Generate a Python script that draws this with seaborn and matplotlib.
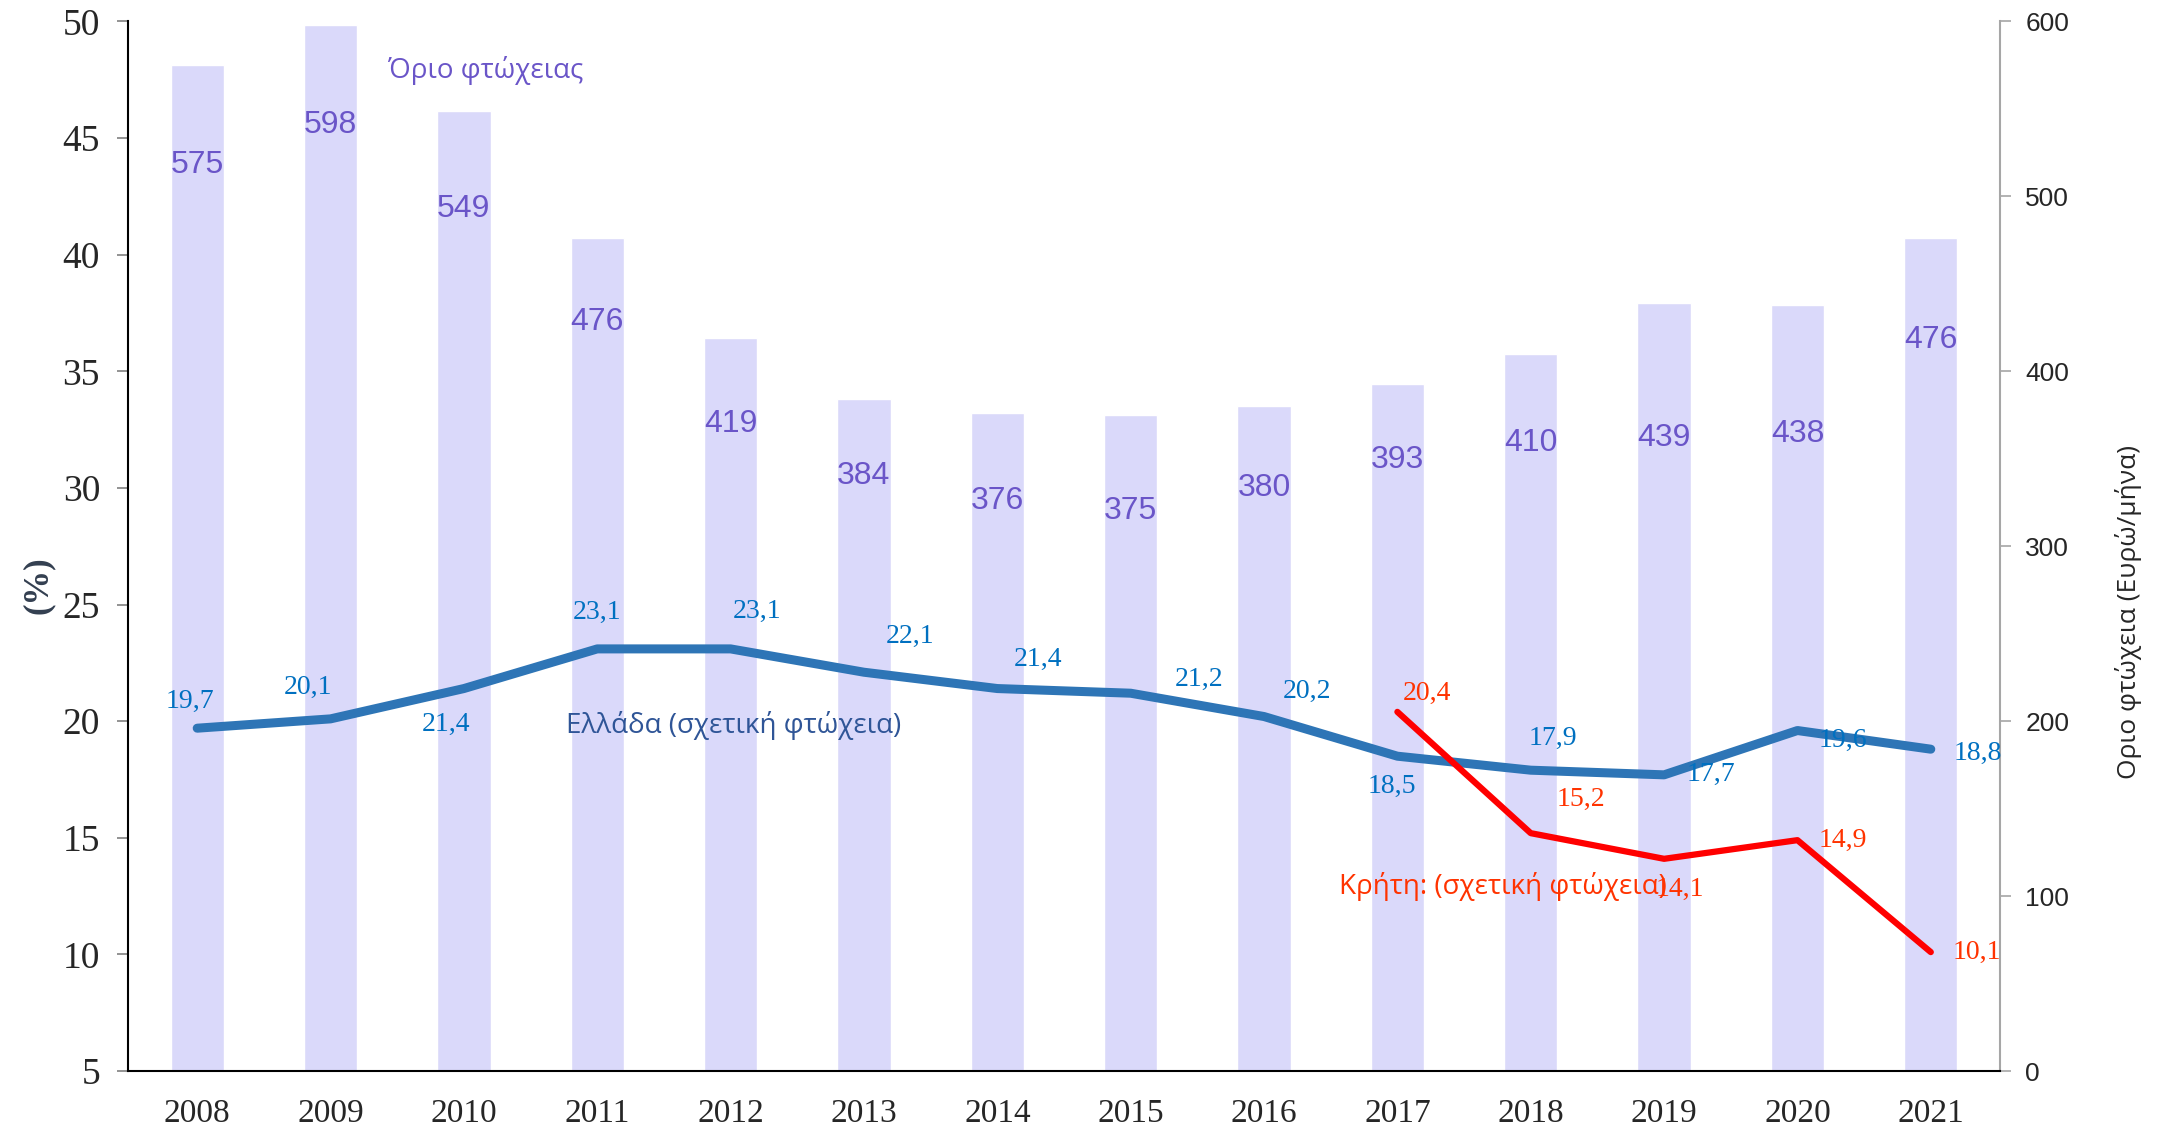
import numpy as np
import pandas as pd
import matplotlib
matplotlib.use("Agg")
import matplotlib.pyplot as plt
import seaborn as sns

# data
years = [2008, 2009, 2010, 2011, 2012, 2013, 2014, 2015, 2016, 2017, 2018, 2019, 2020, 2021]
poverty_line = [575, 598, 549, 476, 419, 384, 376, 375, 380, 393, 410, 439, 438, 476]
greece_rate = [19.7, 20.1, 21.4, 23.1, 23.1, 22.1, 21.4, 21.2, 20.2, 18.5, 17.9, 17.7, 19.6, 18.8]
crete_years = [2017, 2018, 2019, 2020, 2021]
crete_rate = [20.4, 15.2, 14.1, 14.9, 10.1]

# label offsets in points
bar_label_offsets = [-72, -72, -71, -60, -62, -55, -63, -69, -59, -55, -64, -97, -93, -73]
greece_offsets = [(-5, 19), (-16, 23), (-13, -26), (0, 26), (19, 27), (33, 26), (29, 21),
                  (49, 10), (31, 18), (-4, -22), (16, 23), (34, 0), (33, -7), (34, -3)]
crete_offsets = [(21, 13), (36, 24), (11, -22), (33, 0), (33, 0)]

sns.set_style("white")
plt.rcParams['font.family'] = ['Liberation Serif', 'DejaVu Serif']
sans = ['Open Sans', 'DejaVu Sans']

fig = plt.figure(figsize=(21.67, 11.31), dpi=100)
ax = fig.add_axes([0.059, 0.053, 0.864, 0.928])

df = pd.DataFrame({"year": years, "line": poverty_line})
sns.barplot(data=df, x="year", y="line", native_scale=True, width=0.4,
            color="#dad9fa", saturation=1, ax=ax)

for yr, v, off in zip(years, poverty_line, bar_label_offsets):
    ax.annotate(str(v), (yr, v), xytext=(0, off), textcoords="offset points",
                ha="center", va="center", fontsize=23, color="#6a55c8",
                family=['Liberation Sans', 'DejaVu Sans'])

ax2 = ax.twinx()
ax2.patch.set_visible(False)
sns.lineplot(x=years, y=greece_rate, ax=ax2, color="#2e75b6", linewidth=6.5, legend=False,
             solid_capstyle="round")
sns.lineplot(x=crete_years, y=crete_rate, ax=ax2, color="#ff0000", linewidth=4.5, legend=False,
             solid_capstyle="round")

# right axis: poverty threshold (bars)
ax.set_ylim(0, 600)
ax.set_yticks(range(0, 601, 100))
ax.set_yticklabels([str(t) for t in range(0, 601, 100)], fontsize=19,
                   family=['Liberation Sans', 'DejaVu Sans'])
ax.yaxis.tick_right()
ax.tick_params(axis="y", direction="out", length=8, width=1.2, color="#a6a6a6", pad=10,
               right=True, left=False, labelright=True, labelleft=False)
ax.set_xlim(years[0] - 0.52, years[-1] + 0.52)
ax.set_xticks(years)
ax.set_xticklabels([str(y) for y in years], fontsize=24)
ax.tick_params(axis="x", length=0, pad=20)
ax.set_xlabel("")
ax.set_ylabel("")
for s in ["top", "left"]:
    ax.spines[s].set_visible(False)
ax.spines["right"].set_color("#a6a6a6")
ax.spines["right"].set_linewidth(1.5)
ax.spines["bottom"].set_color("black")
ax.spines["bottom"].set_linewidth(1.5)
ax.text(1.0686, 0.437, "Οριο φτώχεια (Ευρώ/μήνα)", transform=ax.transAxes, rotation=90,
        ha="center", va="center", fontsize=19, family=sans)

# left axis: percentages (lines)
ax2.set_ylim(5, 50)
ax2.set_yticks(range(5, 51, 5))
ax2.yaxis.tick_left()
ax2.tick_params(axis="y", direction="out", length=8, width=1.2, color="#808080", pad=12,
                labelsize=27, left=True, right=False, labelleft=True, labelright=False)
ax2.set_ylabel("")
for s in ["top", "right", "bottom"]:
    ax2.spines[s].set_visible(False)
ax2.spines["left"].set_color("black")
ax2.spines["left"].set_linewidth(1.5)
ax2.text(-0.048, 0.463, "(%)", transform=ax2.transAxes, rotation=90, ha="center", va="center",
         fontsize=25, fontweight="bold", color="#333f50")

for yr, v, off in zip(years, greece_rate, greece_offsets):
    ax2.annotate(f"{v:.1f}".replace(".", ","), (yr, v), xytext=off, textcoords="offset points",
                 ha="center", va="center", fontsize=20, color="#0070c0")
for yr, v, off in zip(crete_years, crete_rate, crete_offsets):
    ax2.annotate(f"{v:.1f}".replace(".", ","), (yr, v), xytext=off, textcoords="offset points",
                 ha="center", va="center", fontsize=20, color="#ff3300")

ax2.text(2010.16, 47.9, "Όριο φτώχειας", ha="center", va="center", fontsize=20,
         color="#6a55c8", family=sans)
ax2.text(2012.02, 19.8, "Ελλάδα (σχετική φτώχεια)", ha="center", va="center", fontsize=20,
         color="#2f5597", family=sans)
ax2.text(2017.79, 12.93, "Κρήτη: (σχετική φτώχεια)", ha="center", va="center", fontsize=20,
         color="#ff3300", family=sans)

fig.savefig("out.png", dpi=100)
